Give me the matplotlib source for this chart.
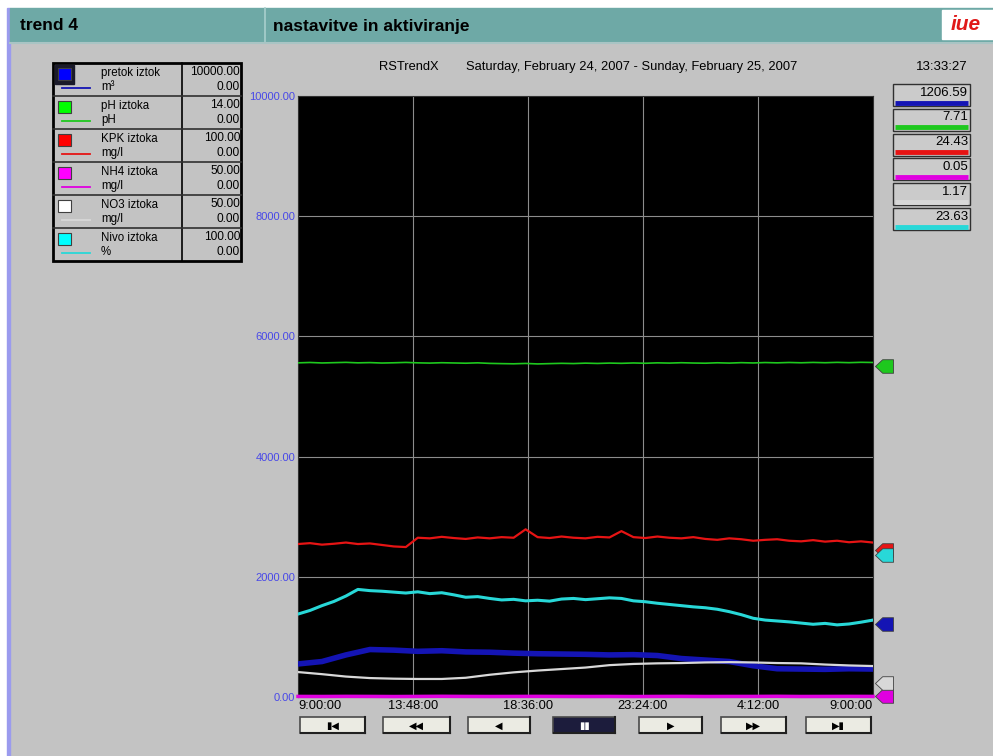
import matplotlib
matplotlib.use("Agg")
import matplotlib.pyplot as plt
from matplotlib import font_manager
from matplotlib.patches import Rectangle
from matplotlib.path import Path

# pen setup (as shown in the legend table and value boxes)
pen_names = ["pretok iztok", "pH iztoka", "KPK iztoka", "NH4 iztoka", "NO3 iztoka", "Nivo iztoka"]
pen_units = ["m³", "pH", "mg/l", "mg/l", "mg/l", "%"]
pen_max = [10000.0, 14.0, 100.0, 50.0, 50.0, 100.0]
pen_min = [0.0, 0.0, 0.0, 0.0, 0.0, 0.0]
pen_now = [1206.59, 7.71, 24.43, 0.05, 1.17, 23.63]
swatch_colors = ["#0000ff", "#00ff00", "#ff0000", "#ff00ff", "#ffffff", "#00ffff"]
line_colors = ["#1414b4", "#1ec81e", "#e61414", "#e000e0", "#d8d8d8", "#28d8d8"]

# time axis: hours since 9:00 Saturday
tick_hours = [0, 4.8, 9.6, 14.4, 19.2, 24]
tick_labels = ["9:00:00", "13:48:00", "18:36:00", "23:24:00", "4:12:00", "9:00:00"]
y_ticks = [0, 2000, 4000, 6000, 8000, 10000]

# half-hour samples, values in chart units (0..10000)
hours_half = [h * 0.5 for h in range(49)]
green = [5560, 5566, 5558, 5563, 5568, 5560, 5564, 5557, 5561, 5567,
         5560, 5556, 5562, 5558, 5554, 5560, 5551, 5547, 5544, 5550,
         5542, 5547, 5552, 5548, 5555, 5550, 5556, 5552, 5558, 5553,
         5560, 5556, 5562, 5557, 5554, 5561, 5556, 5563, 5558, 5565,
         5560, 5566, 5561, 5567, 5562, 5568, 5563, 5569, 5566]
red = [2545, 2560, 2535, 2550, 2570, 2545, 2555, 2530, 2505, 2495,
       2650, 2640, 2665, 2645, 2630, 2655, 2640, 2660, 2650, 2790,
       2660, 2645, 2670, 2650, 2640, 2665, 2655, 2760, 2660, 2645,
       2670, 2650, 2640, 2660, 2630, 2615, 2640, 2625, 2600, 2615,
       2625, 2600, 2590, 2610, 2585, 2600, 2575, 2590, 2570]
cyan = [1380, 1440, 1520, 1590, 1680, 1790, 1770, 1760, 1745, 1730,
        1750, 1720, 1735, 1700, 1660, 1670, 1640, 1615, 1625, 1600,
        1610, 1595, 1630, 1640, 1620, 1635, 1650, 1640, 1600, 1585,
        1560, 1540, 1520, 1500, 1485, 1460, 1420, 1370, 1310, 1280,
        1265, 1250, 1230, 1210, 1225, 1200, 1215, 1245, 1280]

# hourly samples
hours_full = list(range(25))
blue = [550, 590, 700, 790, 780, 760, 770, 750, 745, 730, 720, 715, 710,
        700, 705, 690, 640, 615, 590, 520, 470, 465, 460, 470, 465]
white = [415, 380, 340, 315, 305, 300, 300, 320, 370, 410, 440, 465, 490,
         530, 550, 560, 565, 575, 580, 575, 565, 560, 540, 525, 515]
magenta = [10, 9, 11, 10, 8, 10, 12, 10, 9, 10, 11, 10, 9,
           10, 8, 10, 11, 9, 10, 10, 12, 9, 10, 11, 10]

names = {f.name for f in font_manager.fontManager.ttflist}
FONT = "Liberation Sans Narrow" if "Liberation Sans Narrow" in names else "Liberation Sans"
plt.rcParams["font.family"] = [FONT, "DejaVu Sans"]

BG = "#c3c3c3"
fig = plt.figure(figsize=(9.93, 7.56), dpi=100)
fig.patch.set_facecolor(BG)

# ---- window chrome drawn in pixel coordinates ----
ax0 = fig.add_axes([0, 0, 1, 1], zorder=0)
ax0.set_xlim(0, 993)
ax0.set_ylim(756, 0)
ax0.axis("off")

ax0.add_patch(Rectangle((0, 0), 993, 8, color="white"))
ax0.add_patch(Rectangle((0, 0), 7, 756, color="white"))
ax0.add_patch(Rectangle((7, 8), 3, 748, color="#9b9bee"))
ax0.add_patch(Rectangle((10, 8), 983, 34, color="#6ea9a6"))
ax0.plot([265, 265], [8, 42], color="#a8cfcd", lw=1.2)
ax0.plot([10, 993], [43, 43], color="#a9c4c4", lw=1.5)
ax0.text(20, 26, "trend 4", fontsize=12.5, fontweight="bold", va="center",
         family=["Liberation Sans", "DejaVu Sans"])
ax0.text(273, 26, "nastavitve in aktiviranje", fontsize=12.5, fontweight="bold",
         va="center", family=["Liberation Sans", "DejaVu Sans"])
ax0.add_patch(Rectangle((942, 10), 51, 29, color="white"))
ax0.text(966, 25, "iue", color="#e01818", fontsize=15, fontweight="bold",
         fontstyle="italic", ha="center", va="center",
         family=["Liberation Sans", "DejaVu Sans"])

ax0.text(379, 67, "RSTrendX", fontsize=9.3, va="center")
ax0.text(466, 67, "Saturday, February 24, 2007 - Sunday, February 25, 2007",
         fontsize=9.3, va="center")
ax0.text(968, 67, "13:33:27", fontsize=9.5, va="center", ha="right")

# legend table
tx, tw, ty, row_h = 53, 188, 63, 33
ax0.add_patch(Rectangle((tx, ty), tw, row_h * 6, fill=False, ec="black", lw=2))
ax0.plot([182, 182], [ty, ty + row_h * 6], color="black", lw=1.2)
for i in range(6):
    top = ty + row_h * i
    if i > 0:
        ax0.plot([tx, tx + tw], [top, top], color="#303030", lw=1.2)
    if i == 0:
        ax0.add_patch(Rectangle((55, top + 2), 19, 19, color="#1a1a2a"))
    ax0.add_patch(Rectangle((58, top + 5), 13, 12, fc=swatch_colors[i],
                            ec="#404040", lw=0.8))
    ax0.plot([62, 90], [top + 25, top + 25], color=line_colors[i], lw=1.3)
    ax0.text(101, top + 10, pen_names[i], fontsize=8.3, va="center")
    ax0.text(101, top + 24, pen_units[i], fontsize=8.3, va="center")
    ax0.text(240, top + 9, f"{pen_max[i]:.2f}", fontsize=8.6, va="center", ha="right")
    ax0.text(240, top + 24, f"{pen_min[i]:.2f}", fontsize=8.6, va="center", ha="right")

# current value boxes
for i in range(6):
    y0 = 84 + 24.8 * i
    ax0.add_patch(Rectangle((893, y0), 77, 22, fc="#cbcbcb", ec="#303030", lw=1))
    ax0.text(968, y0 + 8.5, f"{pen_now[i]:.2f}", fontsize=9.5, va="center", ha="right")
    ax0.plot([895, 968], [y0 + 18.5, y0 + 18.5], color=line_colors[i], lw=3.5,
             solid_capstyle="butt")

# navigation buttons
btn_left = [300, 383, 468, 553, 639, 721, 806]
btn_width = [65, 67, 62, 62, 63, 65, 65]
btn_glyph = ["▮◀", "◀◀", "◀", "▮▮", "▶", "▶▶", "▶▮"]
for i in range(7):
    x0, w = btn_left[i], btn_width[i]
    pause = btn_glyph[i] == "▮▮"
    face = "#1c1c3c" if pause else "#ebebe3"
    ax0.add_patch(Rectangle((x0, 717), w, 16, fc=face, ec="#4a4a4a", lw=1.2))
    ax0.plot([x0 + 1, x0 + w], [733, 733], color="#202020", lw=1.5)
    ax0.plot([x0 + w, x0 + w], [717, 733], color="#202020", lw=1.5)
    ax0.text(x0 + w / 2, 725.5, btn_glyph[i], fontsize=7, ha="center", va="center",
             color="white" if pause else "black", family="DejaVu Sans")

# ---- trend plot ----
ax = fig.add_axes([298 / 993, 1 - 697 / 756, 575 / 993, 601 / 756], zorder=1)
ax.set_facecolor("black")
ax.set_xlim(0, 24)
ax.set_ylim(0, 10000)
for h in tick_hours[1:-1]:
    ax.axvline(h, color="#8c8c8c", lw=0.8, zorder=1)
for v in y_ticks[1:-1]:
    ax.axhline(v, color="#8c8c8c", lw=0.8, zorder=1)

ax.plot(hours_half, green, color=line_colors[1], lw=1.2, zorder=3)
ax.plot(hours_half, red, color=line_colors[2], lw=1.6, zorder=3)
ax.plot(hours_half, cyan, color=line_colors[5], lw=2.2, zorder=3)
ax.plot(hours_full, blue, color=line_colors[0], lw=4.0, zorder=3)
ax.plot(hours_full, white, color=line_colors[4], lw=1.6, zorder=3)
ax.plot(hours_full, magenta, color=line_colors[3], lw=2.5, zorder=4, clip_on=False)

# pen markers on the right edge, at the current values
flag = Path([(-1, 0), (-0.2, 0.75), (1, 0.75), (1, -0.75), (-0.2, -0.75), (-1, 0)],
            [Path.MOVETO] + [Path.LINETO] * 4 + [Path.CLOSEPOLY])
for i in range(6):
    yv = pen_now[i] / pen_max[i] * 10000
    ax.plot([24.45], [yv], marker=flag, markersize=13, color=line_colors[i],
            mec="#404040", mew=0.6, clip_on=False, zorder=5)

ax.set_yticks(y_ticks)
ax.set_yticklabels([f"{v:.2f}" for v in y_ticks], color="#4848e8", fontsize=8)
ax.set_xticks(tick_hours)
ax.set_xticklabels(tick_labels, fontsize=9.3)
xl = ax.get_xticklabels()
xl[0].set_ha("left")
xl[-1].set_ha("right")
ax.tick_params(length=0, pad=2)
for s in ax.spines.values():
    s.set_color("#303030")
    s.set_linewidth(0.8)

fig.savefig("out.png", dpi=100, facecolor=BG)
